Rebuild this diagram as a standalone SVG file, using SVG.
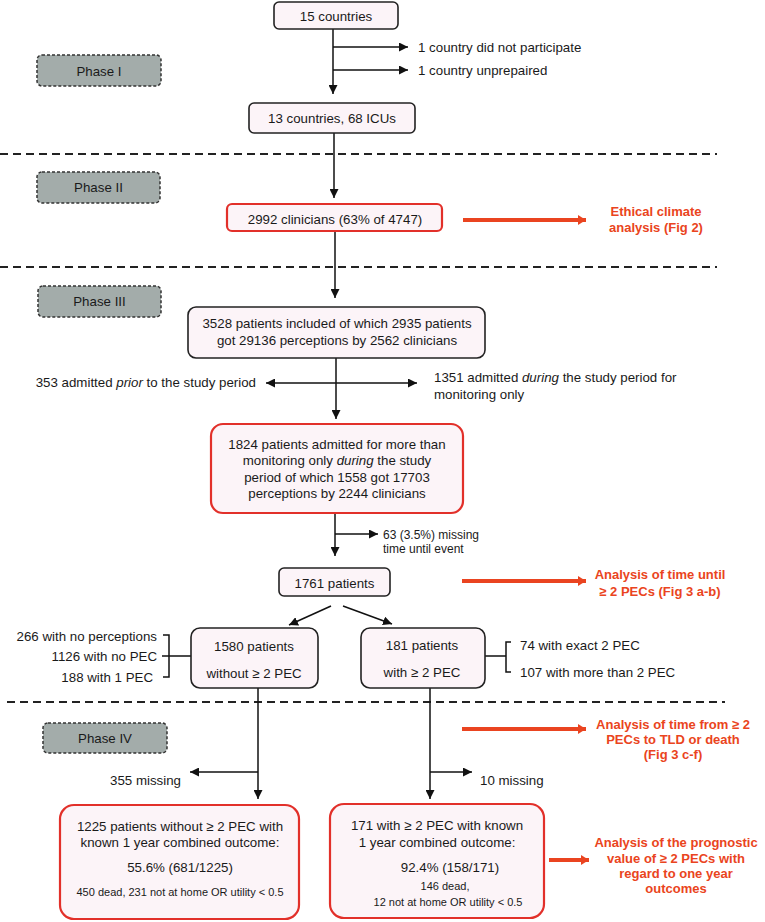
<svg xmlns="http://www.w3.org/2000/svg" width="765" height="922" viewBox="0 0 765 922">
<style>
text{font-family:"Liberation Sans",Arial,sans-serif;font-size:13.3px;fill:#1a1a1a}
.c{text-anchor:middle}
.e{text-anchor:end}
.s{font-size:11px}
.m{font-size:12px}
.r{fill:#ea4420;font-weight:bold;font-size:13px;text-anchor:middle}
.box{fill:#fcf4f8;stroke:#222;stroke-width:1.6}
.rbox{fill:#fcf4f8;stroke:#e2302a;stroke-width:2.2}
.phase{fill:#a3acaa;stroke:#333;stroke-width:1.5;stroke-dasharray:3 2}
.ln{stroke:#111;stroke-width:1.5;fill:none}
.arr{stroke:#111;stroke-width:1.5;fill:none;marker-end:url(#ah)}
.rarr{stroke:#ea4420;stroke-width:4;fill:none;marker-end:url(#rh)}
.sep{stroke:#222;stroke-width:2;stroke-dasharray:8 5;fill:none}
</style>
<defs>
<marker id="ah" markerUnits="userSpaceOnUse" markerWidth="10" markerHeight="9" refX="9" refY="4.5" orient="auto"><path d="M0,0 L9,4.5 L0,9 z" fill="#111"/></marker>
<marker id="rh" markerUnits="userSpaceOnUse" markerWidth="9" markerHeight="10" refX="8" refY="5" orient="auto"><path d="M0,0 L8,5 L0,10 z" fill="#ea4420"/></marker>
</defs>
<rect width="765" height="922" fill="#fff"/>

<g id="separators">
<line class="sep" x1="0" y1="154" x2="717" y2="154"/>
<line class="sep" x1="0" y1="267" x2="717" y2="267"/>
<line class="sep" x1="7" y1="702" x2="725" y2="702"/>
</g>

<g id="connectors">
<line class="arr" x1="333" y1="29" x2="333" y2="94"/>
<line class="arr" x1="333" y1="47" x2="408" y2="47"/>
<line class="arr" x1="333" y1="70" x2="408" y2="70"/>
<line class="arr" x1="334" y1="133" x2="334" y2="198"/>
<line class="arr" x1="335" y1="231" x2="335" y2="298"/>
<line class="arr" x1="336" y1="358" x2="336" y2="419"/>
<line class="arr" x1="336" y1="383" x2="266" y2="383"/>
<line class="arr" x1="336" y1="383" x2="417" y2="383"/>
<line class="arr" x1="335" y1="513" x2="335" y2="556"/>
<line class="arr" x1="335" y1="534" x2="378" y2="534"/>
<line class="arr" x1="331" y1="606" x2="289" y2="625"/>
<line class="arr" x1="343" y1="606" x2="392" y2="624"/>
<path class="ln" d="M163,635 H169 V677 H163 M162,656 H191"/>
<path class="ln" d="M485,656 H506 M511,642 H506 V672 H511"/>
<line class="arr" x1="258" y1="688" x2="258" y2="799"/>
<line class="arr" x1="258" y1="772" x2="190" y2="772"/>
<line class="arr" x1="430" y1="688" x2="430" y2="799"/>
<line class="arr" x1="430" y1="772" x2="472" y2="772"/>
<line class="rarr" x1="463" y1="220" x2="586" y2="220"/>
<line class="rarr" x1="462" y1="581" x2="586" y2="581"/>
<line class="rarr" x1="462" y1="729" x2="586" y2="729"/>
<line class="rarr" x1="549" y1="860" x2="589" y2="860"/>
</g>

<g id="phase1"><rect class="phase" x="37" y="55" width="124" height="31" rx="5"/><text class="c" x="99" y="75.5">Phase I</text></g>
<g id="phase2"><rect class="phase" x="37" y="172" width="123" height="31" rx="5"/><text class="c" x="98.5" y="192">Phase II</text></g>
<g id="phase3"><rect class="phase" x="38" y="286" width="123" height="31" rx="5"/><text class="c" x="99.5" y="306">Phase III</text></g>
<g id="phase4"><rect class="phase" x="43" y="723" width="124" height="30" rx="5"/><text class="c" x="105" y="742.5">Phase IV</text></g>

<g id="n15"><rect class="box" x="274" y="2" width="124" height="27" rx="5"/><text class="c" x="336" y="20.5">15 countries</text></g>
<g id="excl1"><text x="418" y="51.5">1 country did not participate</text><text x="418" y="74.5">1 country unprepaired</text></g>
<g id="n13"><rect class="box" x="249" y="103" width="166" height="30" rx="5"/><text class="c" x="332" y="122.5">13 countries, 68 ICUs</text></g>
<g id="n2992"><rect class="rbox" x="227" y="204" width="215" height="27" rx="5"/><text class="c" x="335" y="223.5">2992 clinicians (63% of 4747)</text></g>
<g id="ethical"><text class="r" x="656" y="215.5">Ethical climate</text><text class="r" x="656" y="232">analysis (Fig 2)</text></g>
<g id="n3528"><rect class="box" x="188" y="307" width="297" height="51" rx="8"/><text class="c" x="337" y="327.5">3528 patients included of which 2935 patients</text><text class="c" x="337" y="344.5">got 29136 perceptions by 2562 clinicians</text></g>
<g id="prior"><text class="e" x="256" y="386.5">353 admitted <tspan font-style="italic">prior</tspan> to the study period</text></g>
<g id="during"><text x="434" y="381.5">1351 admitted <tspan font-style="italic">during</tspan> the study period for</text><text x="434" y="398.5">monitoring only</text></g>
<g id="n1824"><rect class="rbox" x="211" y="424" width="252" height="89" rx="12"/>
<text class="c" x="337" y="448.5">1824 patients admitted for more than</text>
<text class="c" x="337" y="465">monitoring only <tspan font-style="italic">during</tspan> the study</text>
<text class="c" x="337" y="481.5">period of which 1558 got 17703</text>
<text class="c" x="337" y="498">perceptions by 2244 clinicians</text></g>
<g id="missing63"><text class="m" x="383" y="539">63 (3.5%) missing</text><text class="m" x="383" y="552.5">time until event</text></g>
<g id="n1761"><rect class="box" x="279" y="568" width="111" height="28" rx="5"/><text class="c" x="334.5" y="587.5">1761 patients</text></g>
<g id="timeuntil"><text class="r" x="660" y="578.5">Analysis of time until</text><text class="r" x="660" y="595.5">≥ 2 PECs (Fig 3 a-b)</text></g>
<g id="n1580"><rect class="box" x="191" y="628" width="127" height="60" rx="9"/><text class="c" x="254" y="650.5">1580 patients</text><text class="c" x="254" y="677.5">without ≥ 2 PEC</text></g>
<g id="left3"><text class="e" x="157" y="640.5">266 with no perceptions</text><text class="e" x="157" y="660.5">1126 with no PEC</text><text class="e" x="153" y="681.5">188 with 1 PEC</text></g>
<g id="n181"><rect class="box" x="361" y="628" width="124" height="60" rx="9"/><text class="c" x="422" y="649.5">181 patients</text><text class="c" x="422" y="676.5">with ≥ 2 PEC</text></g>
<g id="right2"><text x="520" y="649.5">74 with exact 2 PEC</text><text x="520" y="676.5">107 with more than 2 PEC</text></g>
<g id="timefrom"><text class="r" x="673" y="728.5">Analysis of time from ≥ 2</text><text class="r" x="673" y="743.5">PECs to TLD or death</text><text class="r" x="673" y="758.5">(Fig 3 c-f)</text></g>
<g id="m355"><text x="110" y="784.5">355 missing</text></g>
<g id="m10"><text x="480" y="784.5">10 missing</text></g>
<g id="n1225"><rect class="rbox" x="60" y="805" width="239" height="114" rx="14"/>
<text class="c" x="180" y="830.5">1225 patients without ≥ 2 PEC with</text>
<text class="c" x="180" y="846.5">known 1 year combined outcome:</text>
<text class="c" x="180" y="871.5">55.6% (681/1225)</text>
<text class="c s" x="180" y="896">450 dead, 231 not at home OR utility &lt; 0.5</text></g>
<g id="n171"><rect class="rbox" x="330" y="804" width="214" height="114" rx="14"/>
<text class="c" x="437" y="830">171 with ≥ 2 PEC with known</text>
<text class="c" x="437" y="846.5">1 year combined outcome:</text>
<text class="c" x="450" y="871.5">92.4% (158/171)</text>
<text class="c s" x="445" y="890">146 dead,</text>
<text class="c s" x="448" y="906">12 not at home OR utility &lt; 0.5</text></g>
<g id="prognostic"><text class="r" x="676" y="846.5">Analysis of the prognostic</text><text class="r" x="676" y="862.5">value of ≥ 2 PECs with</text><text class="r" x="676" y="877.5">regard to one year</text><text class="r" x="676" y="892.5">outcomes</text></g>
</svg>
